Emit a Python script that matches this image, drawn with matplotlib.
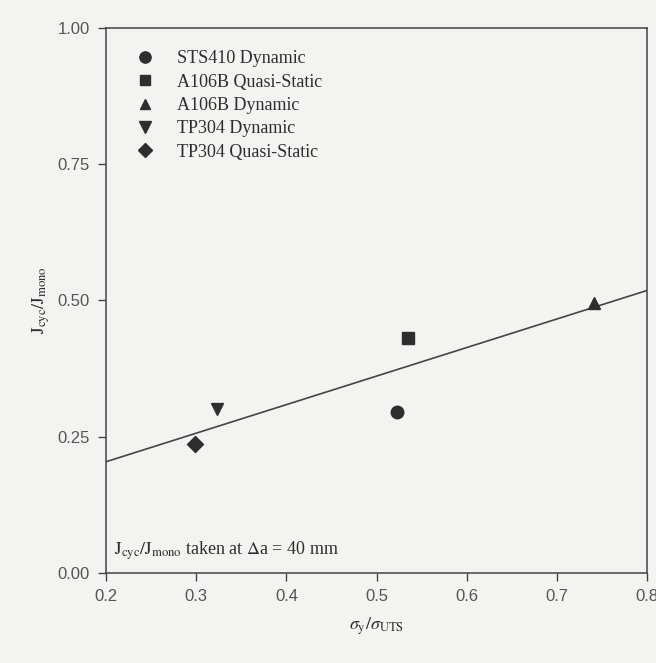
import matplotlib
matplotlib.use("Agg")
import matplotlib.pyplot as plt

# data
series = ["STS410 Dynamic", "A106B Quasi-Static", "A106B Dynamic",
          "TP304 Dynamic", "TP304 Quasi-Static"]
x_vals = [0.523, 0.535, 0.741, 0.323, 0.298]
y_vals = [0.296, 0.430, 0.495, 0.300, 0.236]
markers = ["o", "s", "^", "v", "D"]
sizes = [9, 8, 8, 9, 8]

fit_x = [0.2, 0.8]
fit_y = [0.204, 0.518]

x_ticks = [0.2, 0.3, 0.4, 0.5, 0.6, 0.7, 0.8]
y_ticks = [0.00, 0.25, 0.50, 0.75, 1.00]

bg = "#f3f3f1"
ink = "#2e2e2e"
serif = ["Liberation Serif", "DejaVu Serif"]
sans = ["Liberation Sans", "DejaVu Sans"]

plt.rcParams["mathtext.fontset"] = "stix"

fig = plt.figure(figsize=(6.56, 6.63), dpi=100, facecolor=bg)
ax = fig.add_axes([0.162, 0.136, 0.824, 0.822], facecolor=bg)

ax.plot(fit_x, fit_y, color="#444444", lw=1.2)

for name, xv, yv, m, s in zip(series, x_vals, y_vals, markers, sizes):
    ax.plot(xv, yv, linestyle="none", marker=m, markersize=s,
            color=ink, label=name)

ax.set_xlim(0.2, 0.8)
ax.set_ylim(0.0, 1.0)
ax.set_xticks(x_ticks)
ax.set_xticklabels([f"{v:.1f}" for v in x_ticks], family=sans)
ax.set_yticks(y_ticks)
ax.set_yticklabels([f"{v:.2f}" for v in y_ticks], family=sans)
ax.tick_params(direction="out", length=6, width=1, colors="#444444",
               labelsize=12, pad=6, labelcolor="#555555")

for sp in ax.spines.values():
    sp.set_color("#444444")
    sp.set_linewidth(1.1)

ax.set_xlabel(r"$\sigma_{\rm y}/\sigma_{\rm UTS}$", fontsize=13, color=ink,
              labelpad=8)
ax.set_ylabel(r"$\mathrm{J_{cyc}/J_{mono}}$", fontsize=13, color=ink,
              labelpad=4)

leg = ax.legend(loc="upper left", frameon=False, prop={"family": serif, "size": 13},
                handletextpad=1.0, labelspacing=0.35, borderaxespad=0.4,
                bbox_to_anchor=(0.02, 0.985), handlelength=1.5, markerscale=0.9)
for t in leg.get_texts():
    t.set_color(ink)

ax.text(0.015, 0.02, r"$\mathrm{J_{cyc}/J_{mono}}$ taken at $\Delta$a = 40 mm",
        transform=ax.transAxes, fontsize=13, family=serif, color=ink,
        ha="left", va="bottom")

fig.savefig("out.png", dpi=100, facecolor=bg)
